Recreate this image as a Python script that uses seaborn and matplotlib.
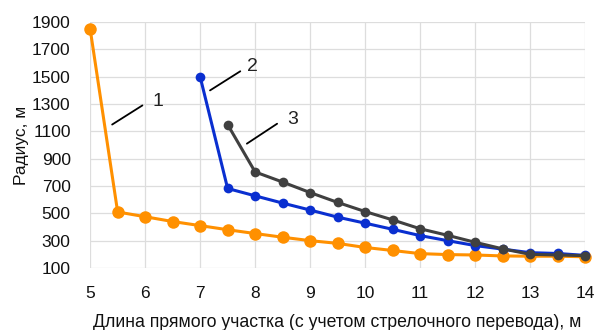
import matplotlib
matplotlib.use("Agg")
import matplotlib.pyplot as plt
import seaborn as sns
import pandas as pd

x1 = [5, 5.5, 6, 6.5, 7, 7.5, 8, 8.5, 9, 9.5, 10, 10.5, 11, 11.5, 12, 12.5, 13, 13.5, 14]
y1 = [1850, 510, 475, 440, 410, 380, 352, 325, 300, 280, 250, 228, 205, 198, 195, 188, 186, 186, 182]
x2 = [7, 7.5, 8, 8.5, 9, 9.5, 10, 10.5, 11, 11.5, 12, 12.5, 13, 13.5, 14]
y2 = [1500, 682, 628, 575, 524, 472, 428, 383, 337, 300, 264, 238, 212, 206, 192]
x3 = [7.5, 8, 8.5, 9, 9.5, 10, 10.5, 11, 11.5, 12, 12.5, 13, 13.5, 14]
y3 = [1150, 803, 729, 652, 580, 513, 452, 387, 339, 288, 240, 200, 195, 190]
labels = ["1", "2", "3"]
colors = ["#FF9000", "#0A2FD0", "#404040"]
xticks = [5, 6, 7, 8, 9, 10, 11, 12, 13, 14]
yticks = [100, 300, 500, 700, 900, 1100, 1300, 1500, 1700, 1900]
xlabel = "Длина прямого участка (с учетом стрелочного перевода), м"
ylabel = "Радиус, м"
# annotation leader lines: (x_start, y_start, x_end, y_end, x_text, y_text)
ann = [(5.4, 1150, 5.95, 1290, 6.13, 1320),
       (7.18, 1400, 7.73, 1540, 7.85, 1575),
       (7.85, 1010, 8.4, 1156, 8.58, 1185)]

sns.set_style("whitegrid")
plt.rcParams['font.family'] = ['Liberation Sans', 'DejaVu Sans']

fig = plt.figure(figsize=(5.97, 3.30), dpi=100)
ax = fig.add_axes([0.151, 0.188, 0.829, 0.745])

df = pd.concat([
    pd.DataFrame({"x": x1, "y": y1, "s": labels[0]}),
    pd.DataFrame({"x": x2, "y": y2, "s": labels[1]}),
    pd.DataFrame({"x": x3, "y": y3, "s": labels[2]}),
])
sizes = {"1": 9, "2": 7, "3": 7}
for lab, col in zip(labels, colors):
    sub = df[df.s == lab]
    sns.lineplot(data=sub, x="x", y="y", ax=ax, color=col, lw=2.2,
                 marker="o", markersize=sizes[lab], markeredgewidth=0,
                 sort=False, legend=False, clip_on=False)

for lab, (xs, ys, xe, ye, xt, yt) in zip(labels, ann):
    ax.plot([xs, xe], [ys, ye], color="black", lw=1.3)
    ax.text(xt, yt, lab, fontsize=14, color="#222222", ha="left", va="center")

ax.set_xlim(5, 14)
ax.set_ylim(100, 1900)
ax.set_xticks(xticks)
ax.set_yticks(yticks)
ax.tick_params(axis="both", labelsize=12.5, colors="#111111", length=0)
ax.tick_params(axis="x", pad=13)
ax.tick_params(axis="y", pad=14)
ax.grid(True, color="#DDDDDD", lw=0.9)
for sp in ax.spines.values():
    sp.set_visible(False)
ax.set_xlabel(xlabel, fontsize=12.7, color="#111111", labelpad=9)
ax.set_ylabel(ylabel, fontsize=12.5, color="#111111", labelpad=2)

fig.savefig("out.png", dpi=100)
